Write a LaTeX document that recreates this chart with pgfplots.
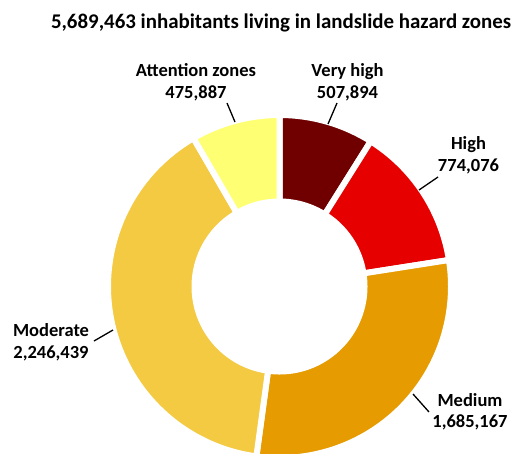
\documentclass[border=0pt]{standalone}
\usepackage{pgfplots}
\pgfplotsset{compat=1.18}
\usepackage{fontspec}
\setmainfont{Carlito}
\definecolor{cVH}{HTML}{700000}
\definecolor{cH}{HTML}{E60000}
\definecolor{cM}{HTML}{E69B00}
\definecolor{cMod}{HTML}{F4CA42}
\definecolor{cAtt}{HTML}{FFFF73}

% data: inhabitants per hazard class (clockwise from top)
\def\vVH{507894}
\def\vH{774076}
\def\vM{1685167}
\def\vMod{2246439}
\def\vAtt{475887}
\edef\total{\fpeval{\vVH+\vH+\vM+\vMod+\vAtt}}

% geometry (pixel units)
\def\cx{279.5}
\def\cy{286.5}
\def\gap{6}
\edef\Rout{\fpeval{168.5+\gap/2}}
\edef\Rin{\fpeval{88-\gap/2}}

\edef\aA{90}
\edef\aB{\fpeval{\aA-360*\vVH/\total}}
\edef\aC{\fpeval{\aB-360*\vH/\total}}
\edef\aD{\fpeval{\aC-360*\vM/\total}}
\edef\aE{\fpeval{\aD-360*\vMod/\total}}
\edef\aF{\fpeval{\aE-360*\vAtt/\total}}

\ExplSyntaxOn
\cs_new_protected:Npn \ring_build:nnnnnnN #1#2#3#4#5#6#7
 {
  \tl_clear:N \l_tmpa_tl
  \int_step_inline:nnn {0} {72}
   {
    \tl_put_right:Nx \l_tmpa_tl
     { ( \fp_eval:n { round(#1 + #3 * cosd( #5 + (#6 - #5) * ##1 / 72 ), 3) } ,
         \fp_eval:n { round(#2 - #3 * sind( #5 + (#6 - #5) * ##1 / 72 ), 3) } ) ~ }
   }
  \int_step_inline:nnn {0} {72}
   {
    \tl_put_right:Nx \l_tmpa_tl
     { ( \fp_eval:n { round(#1 + #4 * cosd( #6 + (#5 - #6) * ##1 / 72 ), 3) } ,
         \fp_eval:n { round(#2 - #4 * sind( #6 + (#5 - #6) * ##1 / 72 ), 3) } ) ~ }
   }
  \tl_gset_eq:NN #7 \l_tmpa_tl
 }
\NewDocumentCommand \RingPoints { m m m m m m m }
 { \ring_build:nnnnnnN {#1}{#2}{#3}{#4}{#5}{#6}#7 }
\ExplSyntaxOff

\RingPoints{\cx}{\cy}{\Rout}{\Rin}{\aA}{\aB}{\ptsVH}
\RingPoints{\cx}{\cy}{\Rout}{\Rin}{\aB}{\aC}{\ptsH}
\RingPoints{\cx}{\cy}{\Rout}{\Rin}{\aC}{\aD}{\ptsM}
\RingPoints{\cx}{\cy}{\Rout}{\Rin}{\aD}{\aE}{\ptsMod}
\RingPoints{\cx}{\cy}{\Rout}{\Rin}{\aE}{\aF}{\ptsAtt}

\newcommand\seg[2]{%
  \edef\next{\noexpand\addplot[fill=#1, draw=white, line width=\gap pt]
    coordinates {#2} -- cycle;}\next}

\tikzset{lbl/.style={font=\fontsize{18.5}{22}\selectfont\bfseries, inner sep=0pt, anchor=base}}

\begin{document}
\begin{tikzpicture}
\begin{axis}[
  name=ax,
  width=513pt, height=453pt, scale only axis,
  xmin=0, xmax=513, ymin=0, ymax=453, y dir=reverse,
  hide axis, clip=true,
]
\seg{cVH}{\ptsVH}
\seg{cH}{\ptsH}
\seg{cM}{\ptsM}
\seg{cMod}{\ptsMod}
\seg{cAtt}{\ptsAtt}

% title
\node[lbl, font=\fontsize{20.9}{24}\selectfont\bfseries] at (axis cs:281,28) {5,689,463 inhabitants living in landslide hazard zones};

% labels
\node[lbl] at (axis cs:196,76) {Attention zones};
\node[lbl] at (axis cs:196,98) {475,887};
\node[lbl] at (axis cs:347.5,76) {Very high};
\node[lbl] at (axis cs:347.5,98) {507,894};
\node[lbl] at (axis cs:468.5,149.3) {High};
\node[lbl] at (axis cs:468.5,171.7) {774,076};
\node[lbl] at (axis cs:51,336.7) {Moderate};
\node[lbl] at (axis cs:51,358.3) {2,246,439};
\node[lbl] at (axis cs:470,406) {Medium};
\node[lbl] at (axis cs:470,427.7) {1,685,167};

% leader lines
\draw[black, line width=1.3pt] (axis cs:227,103) -- (axis cs:235,122);
\draw[black, line width=1.3pt] (axis cs:337,103) -- (axis cs:328,124);
\draw[black, line width=1.3pt] (axis cs:438,177) -- (axis cs:419,190);
\draw[black, line width=1.3pt] (axis cs:94,341) -- (axis cs:113,330);
\draw[black, line width=1.3pt] (axis cs:413,394) -- (axis cs:429,412);
\end{axis}
\pgfresetboundingbox
\path[use as bounding box] (ax.south west) rectangle (ax.north east);
\end{tikzpicture}
\end{document}
